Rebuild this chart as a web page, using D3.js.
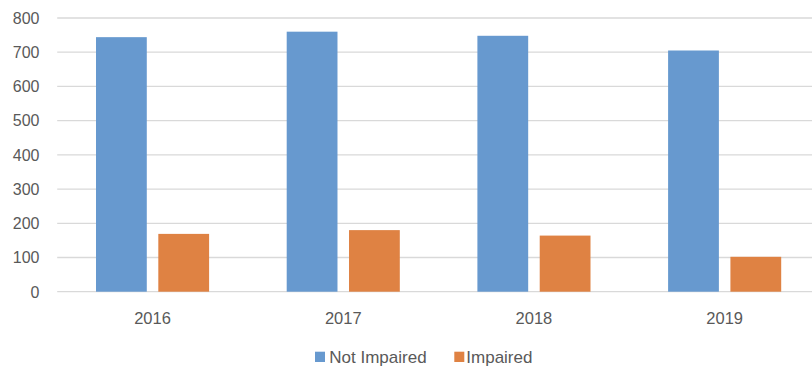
<!DOCTYPE html>
<html><head><meta charset="utf-8">
<script src="https://cdn.jsdelivr.net/npm/d3@7"></script>
<style>body{margin:0;background:#fff}svg{display:block}text{font-family:"Liberation Sans",Arial,sans-serif;fill:#595959}</style>
</head><body><svg id="c" width="812" height="369"></svg>
<script>
const categories = ["2016","2017","2018","2019"];
const seriesNames = ["Not Impaired","Impaired"];
const notImpaired = [744, 760, 748, 705];
const impaired = [169, 180, 164, 102];
const yTicks = [0,100,200,300,400,500,600,700,800];
const colors = ["#6799cf","#df8243"];

(function(){
const svg = d3.select("#c");
const mLeft = 57.2, mRight = 820, mTop = 18, mBottom = 291.7;
const x = d3.scaleBand().domain(categories).range([mLeft, mRight]).paddingInner(0).paddingOuter(0);
const y = d3.scaleLinear().domain([0,800]).range([mBottom, mTop]);
const inner = d3.scaleBand().domain(seriesNames).range([38.8, x.bandwidth()-38.8]).paddingInner(0.185);

svg.append("g").selectAll("line").data(yTicks).join("line")
  .attr("x1", mLeft).attr("x2", 812)
  .attr("y1", d=>y(d)).attr("y2", d=>y(d))
  .attr("stroke", "#d9d9d9").attr("stroke-width", 1.3);

svg.append("g").selectAll("text").data(yTicks).join("text")
  .attr("x", 39.5).attr("y", d=>y(d)+5.8)
  .attr("text-anchor","end").attr("font-size", 16).text(d=>d);

const data = categories.map((c,i)=>({c, vals:[notImpaired[i], impaired[i]]}));
const g = svg.append("g").selectAll("g").data(data).join("g")
  .attr("transform", d=>`translate(${x(d.c)},0)`);
g.selectAll("rect").data(d=>d.vals.map((v,j)=>({v, s:seriesNames[j], j}))).join("rect")
  .attr("x", d=>inner(d.s)).attr("width", inner.bandwidth())
  .attr("y", d=>y(d.v)).attr("height", d=>y(0)-y(d.v))
  .attr("fill", d=>colors[d.j]);

svg.append("g").selectAll("text").data(categories).join("text")
  .attr("x", d=>x(d)+x.bandwidth()/2).attr("y", 323.5)
  .attr("text-anchor","middle").attr("font-size", 16.5).text(d=>d);

const legX = [315, 454.3];
const lg = svg.append("g").selectAll("g").data(seriesNames).join("g")
  .attr("transform", (d,i)=>`translate(${legX[i]},351.7)`);
lg.append("rect").attr("width",10).attr("height",10.3).attr("fill",(d,i)=>colors[i]);
lg.append("text").attr("x", d=> d==="Impaired"?12:14.3).attr("y", 11.3).attr("font-size", 17).text(d=>d);
})();
</script></body></html>
